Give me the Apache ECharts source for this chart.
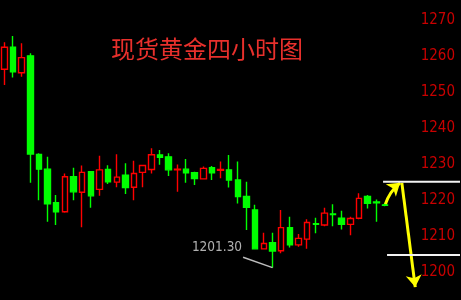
<!DOCTYPE html>
<html><head><meta charset="utf-8">
<script src="https://cdn.jsdelivr.net/npm/echarts@6/dist/echarts.min.js"></script>
<style>html,body{margin:0;padding:0;background:#000;}#c{width:461px;height:300px;}</style>
</head><body><div id="c"></div>
<script>
// 4-hour spot gold candles
const categories = ['K1','K2','K3','K4','K5','K6','K7','K8','K9','K10','K11','K12','K13','K14','K15','K16','K17','K18','K19','K20','K21','K22','K23','K24','K25','K26','K27','K28','K29','K30','K31','K32','K33','K34','K35','K36','K37','K38','K39','K40','K41','K42','K43','K44','K45'];
const opens  = [1256.3,1262.4,1255.3,1260.0,1232.7,1228.6,1219.3,1216.8,1226.5,1222.2,1227.9,1223.0,1228.5,1225.0,1226.9,1223.6,1227.7,1228.5,1232.5,1232.0,1228.4,1228.6,1227.6,1225.9,1229.0,1228.3,1228.4,1225.6,1221.0,1217.3,1206.5,1208.2,1206.0,1212.4,1207.6,1209.2,1213.5,1213.1,1216.2,1215.0,1213.3,1215.0,1221.0,1219.5,1218.7];
const closes = [1262.4,1255.6,1259.5,1232.8,1228.6,1219.0,1216.8,1226.5,1222.3,1227.7,1221.2,1228.4,1225.1,1226.4,1223.5,1227.4,1229.6,1232.6,1231.9,1228.4,1228.6,1227.6,1226.0,1228.8,1227.6,1228.5,1225.6,1221.0,1218.0,1206.5,1208.0,1205.9,1212.4,1207.6,1209.4,1213.8,1213.3,1216.4,1216.0,1213.3,1214.9,1220.5,1219.1,1219.3,1218.6];
const lows   = [1251.9,1254.0,1254.2,1224.8,1220.0,1214.0,1213.1,1216.5,1220.0,1212.5,1217.9,1221.2,1224.5,1223.6,1221.7,1220.0,1223.6,1227.4,1229.8,1226.7,1222.3,1224.8,1224.2,1225.9,1225.6,1226.1,1223.5,1219.1,1211.7,1206.4,1206.4,1201.3,1205.3,1206.9,1207.1,1206.5,1210.8,1212.8,1212.8,1211.9,1210.3,1214.7,1217.7,1214.0,1218.3];
const highs  = [1263.8,1265.5,1263.5,1260.7,1233.0,1232.0,1221.4,1227.4,1229.0,1229.6,1228.1,1232.3,1229.7,1232.7,1230.2,1230.9,1229.8,1234.4,1233.9,1233.0,1229.9,1231.4,1227.9,1229.3,1229.5,1230.7,1232.5,1230.7,1225.1,1218.7,1211.0,1211.0,1217.3,1215.4,1210.6,1214.7,1215.1,1217.9,1218.9,1217.1,1215.4,1221.9,1221.4,1220.2,1219.0];
const yMin = 1190, yMax = 1280, yStep = 10;
const titleText = '现货黄金四小时图';
const swingLow = 1201.30;
const resistance = 1225.1;
const support = 1204.8;
const padSlots = 8; // empty space to the right of the last candle

const allCats = categories.concat(Array.from({length: padSlots}, () => ''));
const kData = opens.map((o, i) => [o, closes[i], lows[i], highs[i]]);
const lastIdx = categories.length - 1;
const xMaxV = allCats.length - 0.5;
const narrow = '"Liberation Sans Narrow", "DejaVu Sans Condensed", sans-serif';

const chart = echarts.init(document.getElementById('c'), null, {renderer: 'canvas'});
chart.setOption({
  backgroundColor: '#000',
  animation: false,
  title: {
    text: titleText, left: 111, top: 37, padding: 0,
    textStyle: {color: '#e8302c', fontSize: 24, fontWeight: 'normal', fontFamily: 'Noto Sans CJK SC'}
  },
  grid: {left: 0, top: -16.3, width: 458.5, height: 324.7, outerBoundsMode: 'none', containLabel: false},
  xAxis: [
    {type: 'category', data: allCats, show: false, boundaryGap: true},
    {type: 'value', min: -0.5, max: xMaxV, show: false}
  ],
  yAxis: {
    type: 'value', position: 'right', min: yMin, max: yMax, interval: yStep,
    axisLine: {show: false}, axisTick: {show: false}, splitLine: {show: false},
    axisLabel: {inside: true, margin: 3.5, color: '#c80000', fontSize: 15, fontFamily: narrow,
      formatter: v => String(v)}
  },
  series: [
    {
      type: 'candlestick', data: kData, barWidth: 6,
      itemStyle: {color: '#000', color0: '#00ff00', borderColor: '#ff0000', borderColor0: '#00ff00', borderWidth: 1.4}
    },
    {
      type: 'line', xAxisIndex: 1, symbol: 'none', clip: false, silent: true,
      data: [[lastIdx - 0.22, resistance], [xMaxV + 0.4, resistance]],
      lineStyle: {color: '#f2f2f2', width: 2}
    },
    {
      type: 'line', xAxisIndex: 1, symbol: 'none', clip: false, silent: true,
      data: [[lastIdx + 0.24, support], [xMaxV + 0.4, support]],
      lineStyle: {color: '#f2f2f2', width: 2}
    },
    {
      type: 'line', xAxisIndex: 1, symbol: 'none', silent: true,
      data: [[27.6, 1204.2], [31, swingLow]],
      lineStyle: {color: '#bdbdbd', width: 1.5}
    },
    {
      type: 'scatter', xAxisIndex: 1, symbolSize: 0, silent: true,
      data: [[27.6, 1204.2]],
      label: {show: true, formatter: swingLow.toFixed(2), position: 'left', distance: 1, offset: [0, -10],
        color: '#dcdcdc', fontSize: 13.5, fontFamily: narrow}
    },
    {
      type: 'lines', coordinateSystem: 'cartesian2d', xAxisIndex: 1, yAxisIndex: 0, silent: true,
      symbol: ['none', 'arrow'], symbolSize: [9, 12],
      lineStyle: {color: '#ffff00', width: 3, opacity: 1, curveness: 0},
      data: [
        {coords: [[lastIdx, 1218.6], [lastIdx + 1.75, 1224.8]], lineStyle: {curveness: 0.15}},
        {coords: [[lastIdx + 1.95, 1224.8], [lastIdx + 3.5, 1195.9]]}
      ]
    }
  ]
});
</script></body></html>
